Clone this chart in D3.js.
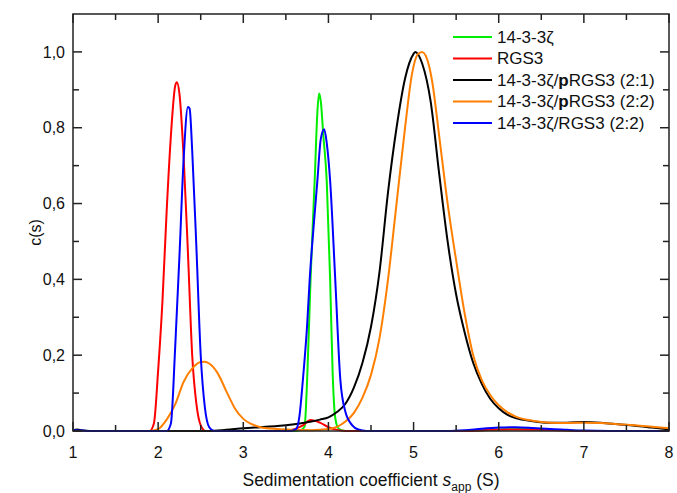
<!DOCTYPE html>
<html lang="en">
<head>
    <meta charset="UTF-8">
    <title>c(s) distributions</title>
    <script src="https://d3js.org/d3.v7.min.js"></script>
    <style>
        body { margin: 0; background: #fff; }
        .line { fill: none; stroke-width: 2px; stroke-linejoin: round; }
        text { font-family: "Liberation Sans", Arial, sans-serif; fill: #111; }
        .tick-label { font-size: 16px; }
        .legend text { font-size: 17px; }
    </style>
</head>
<body>
<div id="chart"></div>
<script>
    const green = [[1,0],[3.6,0],[3.68,0.003],[3.72,0.012],[3.75,0.135],[3.79,0.40],[3.84,0.67],[3.87,0.84],
        [3.89,0.89],[3.91,0.87],[3.94,0.78],[3.98,0.66],[4.02,0.40],[4.05,0.15],[4.08,0.035],[4.12,0.006],
        [4.2,0],[5.6,0],[6.0,0.004],[6.3,0.005],[6.6,0.003],[7.0,0],[8,0]];
    const red = [[1,0],[1.9,0],[1.95,0.02],[2.0,0.16],[2.05,0.34],[2.1,0.58],[2.15,0.78],[2.2,0.91],[2.22,0.92],
        [2.25,0.89],[2.3,0.72],[2.35,0.47],[2.4,0.2],[2.45,0.07],[2.5,0.015],[2.56,0],[3.5,0],[3.6,0.005],
        [3.7,0.015],[3.79,0.029],[3.9,0.022],[4.0,0.01],[4.1,0.003],[4.2,0],[5.6,0],[5.9,0.003],[6.2,0.004],
        [6.5,0.003],[6.8,0.001],[7.0,0],[8,0]];
    const black = [[1,0.002],[1.05,0.004],[1.1,0.002],[1.2,0],[2.6,0],[2.8,0.003],[3.0,0.007],[3.2,0.01],
        [3.4,0.013],[3.6,0.018],[3.8,0.025],[3.9,0.03],[4.0,0.036],[4.1,0.05],[4.2,0.072],[4.3,0.115],
        [4.4,0.18],[4.5,0.275],[4.6,0.42],[4.7,0.63],[4.8,0.8],[4.9,0.93],[5.0,0.995],[5.02,1.0],[5.1,0.97],
        [5.2,0.87],[5.3,0.68],[5.4,0.5],[5.5,0.36],[5.6,0.26],[5.7,0.18],[5.8,0.125],[5.9,0.085],[6.0,0.06],
        [6.1,0.043],[6.2,0.034],[6.4,0.026],[6.6,0.022],[6.8,0.022],[7.0,0.024],[7.2,0.022],[7.4,0.018],
        [7.6,0.014],[7.8,0.009],[8.0,0.004]];
    const orange = [[1,0],[1.9,0],[2.0,0.005],[2.1,0.03],[2.2,0.07],[2.3,0.13],[2.4,0.165],[2.5,0.182],
        [2.55,0.183],[2.6,0.178],[2.65,0.168],[2.7,0.152],[2.75,0.13],[2.8,0.105],[2.85,0.082],[2.9,0.06],
        [3.0,0.032],[3.1,0.018],[3.2,0.01],[3.4,0.005],[3.6,0.003],[3.8,0.002],[4.0,0.005],[4.1,0.011],
        [4.2,0.025],[4.3,0.048],[4.4,0.088],[4.5,0.148],[4.6,0.245],[4.7,0.4],[4.8,0.6],[4.9,0.8],[4.98,0.94],
        [5.05,0.994],[5.1,1.0],[5.18,0.965],[5.22,0.92],[5.3,0.78],[5.4,0.6],[5.5,0.45],[5.6,0.31],[5.7,0.2],
        [5.8,0.135],[5.9,0.095],[6.0,0.068],[6.1,0.05],[6.2,0.038],[6.4,0.027],[6.6,0.022],[6.8,0.021],
        [7.0,0.022],[7.2,0.021],[7.4,0.018],[7.6,0.015],[7.8,0.011],[8.0,0.007]];
    const blue = [[1,0.002],[1.1,0.001],[1.2,0],[2.1,0],[2.15,0.02],[2.2,0.22],[2.25,0.46],[2.3,0.72],
        [2.35,0.855],[2.37,0.85],[2.4,0.74],[2.45,0.48],[2.5,0.2],[2.55,0.06],[2.6,0.01],[2.66,0],[3.55,0],
        [3.62,0.005],[3.66,0.04],[3.7,0.135],[3.75,0.28],[3.78,0.40],[3.83,0.55],[3.87,0.66],[3.91,0.77],
        [3.95,0.796],[3.98,0.76],[4.02,0.66],[4.08,0.40],[4.14,0.135],[4.2,0.05],[4.28,0.015],[4.35,0.004],
        [4.45,0],[5.4,0],[5.6,0.002],[5.8,0.006],[6.0,0.009],[6.2,0.01],[6.4,0.008],[6.6,0.005],[6.8,0.003],
        [7.0,0.001],[7.3,0],[8,0]];

    const xTicks = [1, 2, 3, 4, 5, 6, 7, 8];
    const yTicks = [0, 0.2, 0.4, 0.6, 0.8, 1.0];
    const legendNames = [["14-3-3ζ"], ["RGS3"], ["14-3-3ζ/", "p", "RGS3 (2:1)"],
        ["14-3-3ζ/", "p", "RGS3 (2:2)"], ["14-3-3ζ/RGS3 (2:2)"]];
    const colors = ["#00ee00", "#ff0000", "#000000", "#ff7f00", "#0000ff"];
    const series = [green, red, black, orange, blue];

    const W = 677, H = 493;
    const margin = { top: 14, right: 8, bottom: 62, left: 73 },
          width = W - margin.left - margin.right,
          height = H - margin.top - margin.bottom;

    const x = d3.scaleLinear().domain([1, 8]).range([0, width]);
    const y = d3.scaleLinear().domain([0, 1.1]).range([height, 0]);
    const fmt = d => d3.format(".1f")(d).replace(".", ",");

    const svg = d3.select("#chart").append("svg")
        .attr("width", W).attr("height", H)
        .append("g")
        .attr("transform", `translate(${margin.left},${margin.top})`);

    const line = d3.line()
        .x(d => x(d[0]))
        .y(d => y(d[1]))
        .curve(d3.curveMonotoneX);

    series.forEach((s, i) => {
        svg.append("path")
            .datum(s)
            .attr("class", "line")
            .style("stroke", colors[i])
            .attr("d", line);
    });

    // inward ticks on all four sides
    const minorX = d3.range(1.5, 8, 1);
    const minorY = d3.range(0.1, 1.1, 0.2);
    const tk = svg.append("g").attr("stroke", "#222").attr("stroke-width", 1.5);
    xTicks.forEach(v => {
        tk.append("line").attr("x1", x(v)).attr("x2", x(v)).attr("y1", height).attr("y2", height - 9);
        tk.append("line").attr("x1", x(v)).attr("x2", x(v)).attr("y1", 0).attr("y2", 9);
    });
    minorX.forEach(v => {
        tk.append("line").attr("x1", x(v)).attr("x2", x(v)).attr("y1", height).attr("y2", height - 6);
        tk.append("line").attr("x1", x(v)).attr("x2", x(v)).attr("y1", 0).attr("y2", 6);
    });
    yTicks.forEach(v => {
        tk.append("line").attr("x1", 0).attr("x2", 9).attr("y1", y(v)).attr("y2", y(v));
        tk.append("line").attr("x1", width).attr("x2", width - 9).attr("y1", y(v)).attr("y2", y(v));
    });
    minorY.forEach(v => {
        tk.append("line").attr("x1", 0).attr("x2", 6).attr("y1", y(v)).attr("y2", y(v));
        tk.append("line").attr("x1", width).attr("x2", width - 6).attr("y1", y(v)).attr("y2", y(v));
    });

    svg.append("rect")
        .attr("width", width).attr("height", height)
        .attr("fill", "none").attr("stroke", "#222").attr("stroke-width", 1.5);

    svg.selectAll(".xl").data(xTicks).enter().append("text")
        .attr("class", "tick-label")
        .attr("x", d => x(d)).attr("y", height + 27)
        .attr("text-anchor", "middle")
        .text(d => d);

    svg.selectAll(".yl").data(yTicks).enter().append("text")
        .attr("class", "tick-label")
        .attr("x", -8).attr("y", d => y(d)).attr("dy", "0.35em")
        .attr("text-anchor", "end")
        .text(fmt);

    svg.append("text")
        .attr("transform", `translate(${-32},${height / 2 + 10}) rotate(-90)`)
        .attr("text-anchor", "middle")
        .style("font-size", "16px")
        .text("c(s)");

    const xl = svg.append("text")
        .attr("x", width / 2).attr("y", height + 55)
        .attr("text-anchor", "middle")
        .style("font-size", "17.5px");
    xl.append("tspan").text("Sedimentation coefficient ");
    xl.append("tspan").style("font-style", "italic").text("s");
    xl.append("tspan").attr("dy", 5).style("font-size", "12px").text("app");
    xl.append("tspan").attr("dy", -5).text(" (S)");

    const legend = svg.selectAll(".legend")
        .data(legendNames)
        .enter().append("g")
        .attr("class", "legend")
        .attr("transform", (d, i) => `translate(${380},${23 + i * 21.5})`);

    legend.append("line")
        .attr("x1", 0).attr("x2", 39)
        .attr("stroke-width", 2)
        .attr("stroke", (d, i) => colors[i]);

    legend.append("text")
        .attr("x", 44).attr("dy", "0.35em")
        .each(function (d) {
            d.forEach((part, j) => {
                d3.select(this).append("tspan")
                    .style("font-weight", part === "p" && j === 1 ? "bold" : null)
                    .text(part);
            });
        });
</script>
</body>
</html>
